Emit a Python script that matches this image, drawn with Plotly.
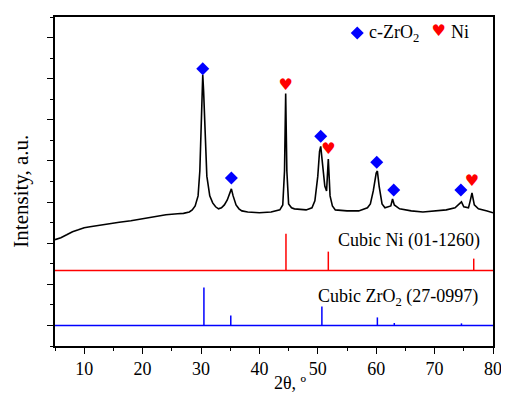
import plotly.graph_objects as go

# XRD pattern (2theta, intensity in axis units)
two_theta = [5.0, 6.0, 7.0, 8.0, 9.0, 10.0, 11.0, 12.0, 14.0, 16.0, 18.0, 20.0, 22.0, 24.0, 26.0, 27.0,
             28.0, 28.5, 29.0, 29.5, 29.8, 30.0, 30.2, 30.3, 30.45, 30.7, 31.0, 31.5, 32.0, 32.5, 33.0,
             33.5, 34.0, 34.5, 35.0, 35.2, 35.5, 36.0, 36.5, 37.0, 38.0, 40.0, 42.0, 43.5, 44.0, 44.3,
             44.5, 44.7, 45.0, 45.5, 46.0, 48.0, 49.0, 49.5, 50.0, 50.3, 50.5, 50.8, 51.2, 51.5, 51.8,
             52.1, 52.5, 53.0, 55.0, 57.0, 58.5, 59.0, 59.5, 60.0, 60.2, 60.5, 61.0, 61.5, 62.5, 62.8,
             63.1, 64.0, 66.0, 68.0, 70.0, 72.0, 73.5, 74.3, 74.6, 75.0, 75.8, 76.1, 76.4, 76.8, 77.5,
             79.0, 80.0]
intensity = [5.17, 5.27, 5.41, 5.56, 5.65, 5.75, 5.80, 5.85, 5.94, 6.02, 6.09, 6.19, 6.28, 6.38, 6.43, 6.45,
             6.52, 6.62, 6.81, 7.30, 8.51, 10.44, 12.61, 13.19, 12.37, 9.96, 8.26, 7.30, 6.96, 6.77, 6.67,
             6.72, 6.86, 7.10, 7.54, 7.64, 7.30, 6.86, 6.67, 6.57, 6.52, 6.48, 6.52, 6.62, 6.86, 8.51,
             12.28, 8.51, 6.91, 6.72, 6.67, 6.62, 6.72, 7.06, 8.26, 9.47, 9.71, 8.99, 7.78, 7.54, 9.09,
             7.30, 6.81, 6.62, 6.57, 6.57, 6.72, 6.91, 7.54, 8.41, 8.51, 7.78, 6.91, 6.72, 6.81, 7.15,
             6.86, 6.67, 6.57, 6.52, 6.57, 6.62, 6.72, 6.91, 7.01, 6.77, 6.72, 7.06, 7.44, 6.86, 6.67,
             6.57, 6.48]

# Reference stick patterns
ni_pos = [44.55, 51.8, 76.7]
ni_height = [1.79, 0.92, 0.58]
ni_base = 3.67
zro2_pos = [30.5, 35.1, 50.7, 60.2, 63.1, 74.6]
zro2_height = [1.84, 0.48, 0.92, 0.39, 0.12, 0.10]
zro2_base = 1.0

# Phase markers
zro2_mark_x = [30.3, 35.2, 50.5, 60.1, 63.0, 74.5]
zro2_mark_y = [13.48, 8.17, 10.20, 8.94, 7.59, 7.59]
ni_mark_x = [44.5, 51.8, 76.4]
ni_mark_y = [12.66, 9.52, 7.97]

FONT = "Liberation Serif, Times New Roman, serif"


def sticks(pos, height, base):
    xs, ys = [5, 80, None], [base, base, None]
    for p, h in zip(pos, height):
        xs += [p, p, None]
        ys += [base, base + h, None]
    return xs, ys


fig = go.Figure()
fig.add_trace(go.Scatter(x=two_theta, y=intensity, mode="lines",
                         line=dict(color="black", width=1.6), showlegend=False))
nx, ny = sticks(ni_pos, ni_height, ni_base)
fig.add_trace(go.Scatter(x=nx, y=ny, mode="lines", line=dict(color="#ff0000", width=1.5),
                         showlegend=False))
zx, zy = sticks(zro2_pos, zro2_height, zro2_base)
fig.add_trace(go.Scatter(x=zx, y=zy, mode="lines", line=dict(color="#0000ff", width=1.5),
                         showlegend=False))
fig.add_trace(go.Scatter(x=zro2_mark_x, y=zro2_mark_y, mode="markers",
                         marker=dict(symbol="diamond", size=10, color="#0000ff"), showlegend=False))
fig.add_trace(go.Scatter(x=ni_mark_x, y=ni_mark_y, mode="text", text=["♥"] * len(ni_mark_x),
                         textfont=dict(color="#ff0000", size=16, family="DejaVu Sans"),
                         showlegend=False))
# legend
fig.add_trace(go.Scatter(x=[56.76], y=[15.22], mode="markers",
                         marker=dict(symbol="diamond", size=10, color="#0000ff"), showlegend=False))
fig.add_trace(go.Scatter(x=[70.71], y=[15.27], mode="text", text=["♥"],
                         textfont=dict(color="#ff0000", size=16, family="DejaVu Sans"),
                         showlegend=False))

ann = [
    dict(x=58.5, y=15.22, text="c-ZrO<sub>2</sub>", xanchor="left", yanchor="middle", showarrow=False),
    dict(x=72.5, y=15.25, text="Ni", xanchor="left", yanchor="middle", showarrow=False),
    dict(x=78.1, y=5.12, text="Cubic Ni (01-1260)", xanchor="right", yanchor="middle", showarrow=False),
    dict(x=77.8, y=2.37, text="Cubic ZrO<sub>2</sub> (27-0997)", xanchor="right", yanchor="middle",
         showarrow=False),
    dict(x=0.538, y=-0.112, xref="paper", yref="paper", text="2θ, º", xanchor="center",
         yanchor="middle", showarrow=False),
]
for a in ann:
    a["font"] = dict(family=FONT, size=18, color="black")
ann.append(dict(x=-0.0785, y=0.471, xref="paper", yref="paper", text="Intensity, a.u.", textangle=-90,
                xanchor="center", yanchor="middle", showarrow=False,
                font=dict(family=FONT, size=21, color="black")))

# the page body has an 8px margin: the figure is sized so it fits the 509x394 window
fig.update_layout(
    width=501, height=386, margin=dict(l=47, r=8, t=7, b=48),
    paper_bgcolor="white", plot_bgcolor="white",
    font=dict(family=FONT, size=18, color="black"),
    annotations=ann,
    xaxis=dict(range=[5, 80], tick0=0, dtick=10, ticks="outside", ticklen=6, tickwidth=1.2,
               tickcolor="black", showline=True, linecolor="black", linewidth=1.5, mirror=True,
               showgrid=False, zeroline=False, tickfont=dict(family=FONT, size=18),
               minor=dict(tick0=0, dtick=5, ticks="outside", ticklen=3, tickcolor="black", showgrid=False)),
    yaxis=dict(range=[0, 16], tick0=1, dtick=2, ticks="outside", ticklen=6, tickwidth=1.2,
               tickcolor="black", showline=True, linecolor="black", linewidth=1.5, mirror=True,
               showgrid=False, zeroline=False, showticklabels=False,
               minor=dict(tick0=0, dtick=2, ticks="outside", ticklen=3, tickcolor="black", showgrid=False)),
)

fig.write_html("out.html", config={"displayModeBar": False})
